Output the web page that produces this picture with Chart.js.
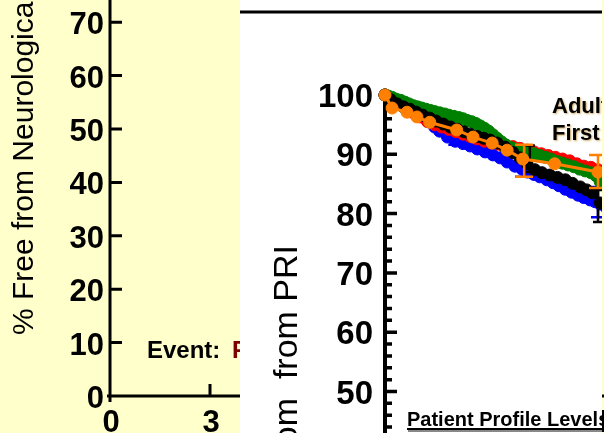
<!DOCTYPE html>
<html lang="en">
<head>
<meta charset="UTF-8" />
<title>Freedom from PRI</title>
<script src="https://cdn.jsdelivr.net/npm/chart.js"></script>
<style>
  html, body { margin: 0; padding: 0; }
  body { width: 604px; height: 433px; overflow: hidden; background: #ffffcc; position: relative; }
  #left { position: absolute; left: 0; top: -40px; }
  #panel { position: absolute; left: 240px; top: 0; width: 362px; height: 433px; overflow: hidden; background: #fff; }
  #right { position: absolute; left: 0; top: 0; }
</style>
</head>
<body>
<canvas id="left" width="620" height="473"></canvas>
<div id="panel"><canvas id="right" width="520" height="700"></canvas></div>
<script>
// left (back) slide axes
var leftYTicks = [0, 10, 20, 30, 40, 50, 60, 70];
var leftXTicks = [0, 3, 6, 9, 12, 15];

// right slide axes
var rightYTicks = [0, 10, 20, 30, 40, 50, 60, 70, 80, 90, 100];

// Kaplan-Meier curves (years, % free)
var orangeT = [0, 0.1, 0.31, 0.45, 0.63, 1.01, 1.24, 1.51, 1.72, 1.94, 2.39, 3.0, 3.2];
var orangeS = [100, 97.8, 97.1, 96.3, 95.4, 94.1, 92.9, 91.9, 90.7, 89.2, 88.4, 87.0, 86.6];

var blackT = [0, 0.08, 0.17, 0.26, 0.35, 0.44, 0.53, 0.63, 0.72, 0.82, 0.92, 1.02, 1.11, 1.2, 1.3, 1.39, 1.48, 1.58, 1.69, 1.8, 1.9, 2.0, 2.11, 2.21, 2.32, 2.43, 2.54, 2.64, 2.75, 2.84, 2.92, 3.03, 3.12];
var blackS = [100, 99.2, 98.5, 98.0, 97.6, 97.1, 96.6, 96.1, 95.6, 95.1, 94.6, 94.2, 93.8, 93.4, 93.0, 92.7, 92.4, 91.9, 91.2, 90.3, 89.4, 88.4, 87.4, 86.9, 86.5, 86.1, 85.7, 85.1, 84.5, 84.0, 83.5, 81.8, 81.2];

var greenT = [0, 0.05, 0.1, 0.16, 0.22, 0.28, 0.34, 0.4, 0.46, 0.52, 0.58, 0.64, 0.7, 0.77, 0.84, 0.9, 0.97, 1.04, 1.1, 1.16, 1.22, 1.28, 1.34, 1.4, 1.46, 1.52, 1.58, 1.64, 1.7, 1.78, 1.86, 1.94, 2.02, 2.1, 2.18, 2.26, 2.34, 2.42, 2.5, 2.58, 2.66, 2.74, 2.82, 2.9, 2.97, 3.03, 3.1];
var greenS = [100, 99.8, 99.6, 99.3, 99.1, 98.8, 98.5, 98.2, 98.0, 97.8, 97.6, 97.4, 97.2, 97.0, 96.8, 96.6, 96.4, 96.2, 96.0, 95.7, 95.5, 95.2, 94.8, 94.4, 93.9, 93.3, 92.7, 92.1, 91.6, 91.1, 90.8, 90.5, 90.3, 90.1, 89.8, 89.5, 89.2, 88.8, 88.5, 88.2, 87.9, 87.5, 87.2, 86.9, 86.4, 85.4, 84.8];

var redT = [0, 0.1, 0.2, 0.3, 0.4, 0.5, 0.6, 0.7, 0.8, 0.9, 1.0, 1.1, 1.2, 1.3, 1.4, 1.5, 1.6, 1.7, 1.8, 1.9, 2.0, 2.1, 2.2, 2.3, 2.4, 2.5, 2.6, 2.7, 2.8, 2.9, 3.0, 3.1];
var redS = [100, 99.2, 98.4, 97.7, 97.0, 96.3, 95.5, 95.0, 94.6, 94.2, 93.8, 93.4, 93.0, 92.6, 92.2, 91.9, 91.7, 91.5, 91.3, 91.0, 90.7, 90.4, 90.1, 89.8, 89.5, 89.2, 88.9, 88.4, 88.0, 87.8, 87.4, 86.9];

var blueT = [0, 0.15, 0.3, 0.45, 0.6, 0.7, 0.77, 0.88, 0.99, 1.1, 1.2, 1.3, 1.41, 1.52, 1.62, 1.72, 1.83, 1.93, 2.01, 2.1, 2.18, 2.28, 2.37, 2.45, 2.54, 2.63, 2.72, 2.8, 2.89, 2.96, 3.03, 3.12];
var blueS = [100, 98.9, 97.9, 97.0, 95.6, 94.6, 93.9, 92.9, 92.2, 91.8, 91.4, 90.9, 90.4, 89.9, 89.4, 88.7, 88.0, 87.5, 87.0, 86.6, 86.2, 85.7, 85.2, 84.7, 84.1, 83.6, 83.1, 82.7, 82.3, 82.0, 81.6, 81.0];

// error bars (time, low, high)
var orangeErrT = [1.96, 3.0], orangeErrLo = [86.2, 84.3], orangeErrHi = [91.6, 89.9];
var blackErrT = [2.04, 3.0], blackErrLo = [87.0, 78.6], blackErrHi = [91.5, 84.0];
var blueErrT = [0.99, 1.93, 3.0], blueErrLo = [91.6, 86.2, 79.4], blueErrHi = [96.0, 90.5, 84.5];

function pts(t, s) {
  var out = [];
  for (var i = 0; i < t.length; i++) out.push({ x: t[i], y: s[i] });
  return out;
}

var FONT = '"Liberation Sans", Arial, sans-serif';

/* ---------------- left slide ---------------- */

var leftAxes = {
  id: "leftAxes",
  afterDraw: function (chart) {
    var ctx = chart.ctx;
    var xs = chart.scales.x, ys = chart.scales.y;
    var x0 = xs.getPixelForValue(0), y0 = ys.getPixelForValue(0);
    ctx.save();
    ctx.strokeStyle = "#000";
    ctx.fillStyle = "#000";
    ctx.lineWidth = 3;
    ctx.beginPath();
    ctx.moveTo(x0, 0);
    ctx.lineTo(x0, y0 + 6);
    ctx.moveTo(x0 - 3, y0);
    ctx.lineTo(chart.chartArea.right, y0);
    leftYTicks.forEach(function (v) {
      var y = ys.getPixelForValue(v);
      ctx.moveTo(x0, y);
      ctx.lineTo(x0 + 12, y);
    });
    leftXTicks.forEach(function (v) {
      var x = xs.getPixelForValue(v);
      ctx.moveTo(x, y0);
      ctx.lineTo(x, y0 - 12);
    });
    ctx.stroke();

    ctx.font = "bold 31px " + FONT;
    ctx.textAlign = "right";
    ctx.textBaseline = "alphabetic";
    leftYTicks.forEach(function (v) {
      ctx.fillText(String(v), x0 - 6, ys.getPixelForValue(v) + 12);
    });
    ctx.textAlign = "center";
    leftXTicks.forEach(function (v) {
      ctx.fillText(String(v), xs.getPixelForValue(v) + 1, y0 + 36);
    });

    // axis title
    ctx.save();
    ctx.translate(33, 375);
    ctx.rotate(-Math.PI / 2);
    ctx.font = "30px " + FONT;
    ctx.textAlign = "left";
    ctx.fillText("% Free from Neurological Events", 0, 0);
    ctx.restore();

    ctx.font = "bold 24px " + FONT;
    ctx.textAlign = "left";
    ctx.fillText("Event:", 147, 398);
    ctx.fillStyle = "#7a0000";
    ctx.fillText("First", 232, 398);
    ctx.restore();
  }
};

new Chart(document.getElementById("left"), {
  type: "scatter",
  data: { datasets: [] },
  options: {
    responsive: false,
    animation: false,
    events: [],
    layout: { padding: { left: 110, right: 10, top: 8.8, bottom: 37 } },
    plugins: { legend: { display: false }, tooltip: { enabled: false } },
    scales: {
      x: { type: "linear", min: 0, max: 15, display: false },
      y: { type: "linear", min: 0, max: 80, display: false }
    }
  },
  plugins: [leftAxes]
});

/* ---------------- right slide ---------------- */

var errBars = {
  1: { t: blackErrT, lo: blackErrLo, hi: blackErrHi, color: "#000", cap: 10 },
  4: { t: blueErrT, lo: blueErrLo, hi: blueErrHi, color: "#0000ff", cap: 14 },
  0: { t: orangeErrT, lo: orangeErrLo, hi: orangeErrHi, color: "#ff8000", cap: 18 }
};

var rightDeco = {
  id: "rightDeco",
  beforeDatasetsDraw: function (chart) {
    var ctx = chart.ctx;
    var xs = chart.scales.x, ys = chart.scales.y;
    var x0 = xs.getPixelForValue(0);
    ctx.save();
    ctx.strokeStyle = "#000";
    ctx.fillStyle = "#000";

    // slide rule at the top
    ctx.lineWidth = 3;
    ctx.beginPath();
    ctx.moveTo(0, 12);
    ctx.lineTo(chart.width, 12);
    ctx.stroke();

    ctx.lineWidth = 4;
    ctx.beginPath();
    ctx.moveTo(x0, ys.getPixelForValue(100));
    ctx.lineTo(x0, chart.height);
    ctx.stroke();

    ctx.lineWidth = 3.5;
    ctx.beginPath();
    for (var v = 0; v <= 100; v += 2) {
      var y = ys.getPixelForValue(v);
      ctx.moveTo(x0, y);
      ctx.lineTo(x0 + (v % 10 === 0 ? 12 : 7), y);
    }
    ctx.stroke();

    ctx.font = "bold 33px " + FONT;
    ctx.textAlign = "right";
    rightYTicks.forEach(function (v) {
      ctx.fillText(String(v), x0 - 12, ys.getPixelForValue(v) + 12);
    });

    ctx.save();
    ctx.translate(57, 245);
    ctx.rotate(-Math.PI / 2);
    ctx.font = "34px " + FONT;
    ctx.textAlign = "right";
    ctx.fillText("% Freedom  from PRI", 0, 0);
    ctx.restore();
    ctx.restore();
  },
  afterDatasetDraw: function (chart, args) {
    var eb = errBars[args.index];
    if (!eb) return;
    var ctx = chart.ctx;
    var xs = chart.scales.x, ys = chart.scales.y;
    ctx.save();
    ctx.strokeStyle = eb.color;
    ctx.lineWidth = 2.5;
    ctx.beginPath();
    for (var i = 0; i < eb.t.length; i++) {
      var x = xs.getPixelForValue(eb.t[i]);
      var yl = ys.getPixelForValue(eb.lo[i]);
      var yh = ys.getPixelForValue(eb.hi[i]);
      ctx.moveTo(x, yl);
      ctx.lineTo(x, yh);
      ctx.moveTo(x - eb.cap / 2, yl);
      ctx.lineTo(x + eb.cap / 2, yl);
      ctx.moveTo(x - eb.cap / 2, yh);
      ctx.lineTo(x + eb.cap / 2, yh);
    }
    ctx.stroke();
    ctx.restore();
  },
  afterDraw: function (chart) {
    var ctx = chart.ctx;
    ctx.save();
    ctx.fillStyle = "#000";
    ctx.font = "bold 22px " + FONT;
    ctx.textAlign = "left";
    ctx.shadowColor = "rgba(190,140,40,0.7)";
    ctx.shadowBlur = 2;
    ctx.shadowOffsetX = 1;
    ctx.shadowOffsetY = 1;
    ctx.fillText("Adult", 312, 113);
    ctx.fillText("First", 312, 140);
    ctx.shadowColor = "transparent";

    ctx.font = "bold 20px " + FONT;
    ctx.fillText("Patient Profile Levels", 167, 426);
    var w = ctx.measureText("Patient Profile Levels").width;
    ctx.fillStyle = "#888";
    ctx.fillRect(168, 430, w, 2);
    ctx.fillStyle = "#000";
    ctx.fillRect(167, 428, w, 2);
    ctx.restore();
  }
};

function kmSet(label, t, s, color) {
  return {
    label: label,
    data: pts(t, s),
    showLine: true,
    borderColor: color,
    backgroundColor: color,
    borderWidth: 3,
    pointRadius: 6,
    pointBorderWidth: 1,
    pointBorderColor: color,
    pointBackgroundColor: color,
    tension: 0,
    clip: false
  };
}

new Chart(document.getElementById("right"), {
  type: "scatter",
  data: {
    datasets: [
      kmSet("Orange", orangeT, orangeS, "#ff8000"),
      kmSet("Black", blackT, blackS, "#000000"),
      kmSet("Green", greenT, greenS, "#008000"),
      kmSet("Red", redT, redS, "#ff0000"),
      kmSet("Blue", blueT, blueS, "#0000ff")
    ]
  },
  options: {
    responsive: false,
    animation: false,
    events: [],
    layout: { padding: { left: 145, right: 20, top: 95, bottom: 12 } },
    plugins: { legend: { display: false }, tooltip: { enabled: false } },
    scales: {
      x: { type: "linear", min: 0, max: 5, display: false },
      y: { type: "linear", min: 0, max: 100, display: false }
    }
  },
  plugins: [rightDeco]
});
</script>
</body>
</html>
